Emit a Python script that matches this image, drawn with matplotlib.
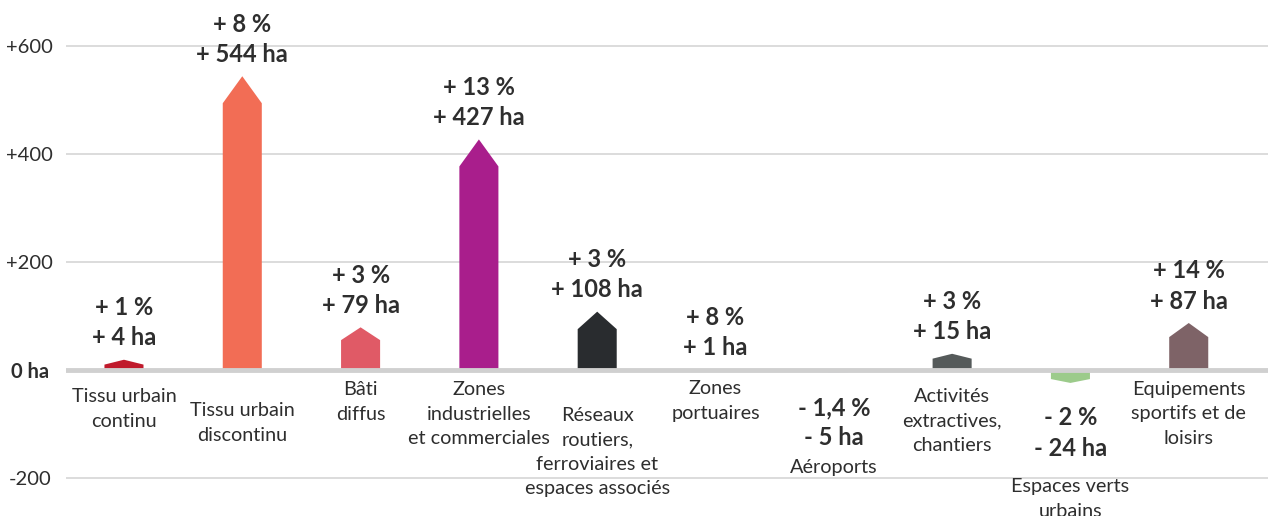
import numpy as np
import matplotlib.pyplot as plt
from matplotlib.patches import Polygon

plt.rcParams['font.family'] = ['Lato', 'DejaVu Sans']

# data
categories = ['Tissu urbain\ncontinu', 'Tissu urbain\ndiscontinu', 'Bâti\ndiffus',
              'Zones\nindustrielles\net commerciales',
              'Réseaux\nroutiers,\nferroviaires et\nespaces associés',
              'Zones\nportuaires', 'Aéroports', 'Activités\nextractives,\nchantiers',
              'Espaces verts\nurbains', 'Equipements\nsportifs et de\nloisirs']
hectares = [4, 544, 79, 427, 108, 1, -5, 15, -24, 87]
pct_labels = ['+ 1 %', '+ 8 %', '+ 3 %', '+ 13 %', '+ 3 %', '+ 8 %', '- 1,4 %', '+ 3 %', '- 2 %', '+ 14 %']
ha_labels = ['+ 4 ha', '+ 544 ha', '+ 79 ha', '+ 427 ha', '+ 108 ha', '+ 1 ha', '- 5 ha', '+ 15 ha', '- 24 ha', '+ 87 ha']
yticks = [-200, 0, 200, 400, 600]
ytick_labels = ['-200', '0 ha', '+200', '+400', '+600']

# style
colors = ['#C01A2C', '#F26D55', '#E05A66', '#A91E8C', '#292C2F',
          '#5B8DB8', '#D8D6EC', '#555A5A', '#9CCB8B', '#7E6367']
# vertical centre of each category label block (data units)
cat_label_y = [-72, -98, -59, -82, -152, -57, -181, -94, -239, -81]
text_col = '#2E2E2E'
line_gap = 24.5  # px between category label lines

fig = plt.figure(figsize=(12.68, 5.16), dpi=100)
ax = fig.add_axes([66 / 1268, 0, 1 - 66 / 1268, 1])
ax.set_xlim(-0.49, 9.67)
ax.set_ylim(-270.4, 685.2)

for y in yticks:
    if y == 0:
        continue
    ax.axhline(y, color='#D9D9D9', lw=1.3, zorder=1)
ax.axhline(0, color='#D0D0D0', lw=3.5, zorder=4)

w = 0.33
for i, v in enumerate(hectares):
    s = np.sign(v)
    if 3 <= v < 30:
        # small gains: arrow head drawn beyond the value so it stays visible
        shoulder, tip = v + 6, v + 15
    else:
        shoulder, tip = v - s * min(0.3 * abs(v), 50), v
    pts = [(i - w / 2, 0), (i - w / 2, shoulder), (i, tip), (i + w / 2, shoulder), (i + w / 2, 0)]
    ax.add_patch(Polygon(pts, closed=True, facecolor=colors[i], edgecolor='none', zorder=3))

    off = 37 if v > 0 else -50
    ax.annotate(pct_labels[i] + '\n' + ha_labels[i], xy=(i, tip), xytext=(0, off),
                textcoords='offset pixels', ha='center', va='center',
                fontsize=17, fontweight='bold', color=text_col, linespacing=1.39)

    lines = categories[i].split('\n')
    n = len(lines)
    for k, line in enumerate(lines):
        ax.annotate(line, xy=(i, cat_label_y[i]), xytext=(0, ((n - 1) / 2 - k) * line_gap),
                    textcoords='offset pixels', ha='center', va='center',
                    fontsize=14.3, color=text_col)

ax.set_xticks([])
ax.set_yticks(yticks)
ax.set_yticklabels(ytick_labels)
for lbl in ax.get_yticklabels():
    lbl.set_ha('center')
    lbl.set_fontsize(14.5)
    lbl.set_color(text_col)
    if lbl.get_text() == '0 ha':
        lbl.set_fontweight('bold')
ax.tick_params(axis='y', length=0, pad=26)
for sp in ax.spines.values():
    sp.set_visible(False)

fig.savefig('out.png', dpi=100)
